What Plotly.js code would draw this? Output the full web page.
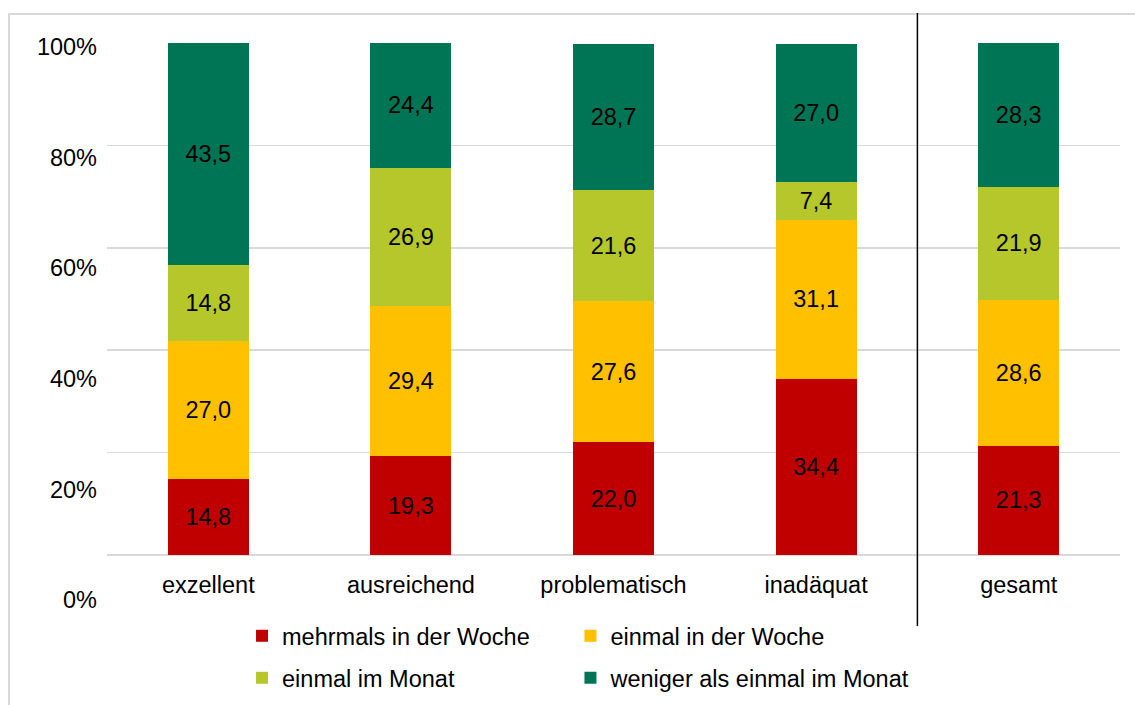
<!DOCTYPE html>
<html>
<head>
<meta charset="utf-8">
<script src="https://cdn.plot.ly/plotly-3.0.1.min.js"></script>
<style>
  html, body { margin: 0; padding: 0; background: #ffffff; overflow: hidden; }
  #wrap { position: relative; width: 1135px; height: 705px; overflow: hidden; background: #ffffff; }
  #frame { position: absolute; left: 8px; top: 13px; width: 1300px; height: 900px; border: 2px solid #d9d9d9; box-sizing: border-box; }
  #chart { position: absolute; left: 0; top: 0; width: 1135px; height: 705px; }
</style>
</head>
<body>
<div id="wrap">
  <div id="frame"></div>
  <div id="chart"></div>
</div>
<script>
// ---- data ----
const categories = ["exzellent", "ausreichend", "problematisch", "inadäquat", "gesamt"];
const seriesNames = ["mehrmals in der Woche", "einmal in der Woche", "einmal im Monat", "weniger als einmal im Monat"];
const mehrmalsWoche = [14.8, 19.3, 22.0, 34.4, 21.3];
const einmalWoche   = [27.0, 29.4, 27.6, 31.1, 28.6];
const einmalMonat   = [14.8, 26.9, 21.6, 7.4, 21.9];
const wenigerMonat  = [43.5, 24.4, 28.7, 27.0, 28.3];
const yTickValues = [0, 20, 40, 60, 80, 100];
const yTickLabels = ["0%", "20%", "40%", "60%", "80%", "100%"];

// ---- styles ----
const colors = ["#C00000", "#FFC000", "#B5C72B", "#007556"];
const FONT = "Liberation Sans, Arial, sans-serif";
const FS = 23.5;
const seriesValues = [mehrmalsWoche, einmalWoche, einmalMonat, wenigerMonat];
const legendIds = ["legend", "legend2", "legend3", "legend4"];

const traces = seriesValues.map((vals, i) => ({
  type: "bar",
  name: seriesNames[i],
  x: categories,
  y: vals,
  marker: { color: colors[i], line: { width: 0 } },
  texttemplate: "%{y:.1f}",
  textposition: "inside",
  insidetextanchor: "middle",
  textangle: 0,
  constraintext: "none",
  insidetextfont: { family: FONT, size: FS, color: "#000000" },
  hoverinfo: "skip",
  legend: legendIds[i]
}));

// carrier trace for the label axis
traces.push({
  type: "scatter", mode: "markers", x: [categories[0]], y: [null],
  yaxis: "y2", showlegend: false, hoverinfo: "skip"
});

const H = 705;
const px = v => 1 - v / H;

const legendBase = {
  orientation: "h",
  xanchor: "left",
  yanchor: "middle",
  font: { family: FONT, size: FS, color: "#000000" },
  bgcolor: "rgba(0,0,0,0)",
  borderwidth: 0,
  itemclick: false, itemdoubleclick: false
};
const col1 = 0.1333, col2 = 0.4575;
const row1 = px(636), row2 = px(678);

const layout = {
  width: 1135, height: 705,
  margin: { l: 107, r: 15, t: 0, b: 0, pad: 0 },
  paper_bgcolor: "rgba(0,0,0,0)",
  plot_bgcolor: "rgba(0,0,0,0)",
  font: { family: FONT, size: FS, color: "#000000" },
  separators: ",.",
  barmode: "stack",
  bargap: 0.6,
  showlegend: true,
  xaxis: {
    type: "category", range: [-0.5, 4.5],
    showgrid: false, zeroline: false, showline: false, ticks: "",
    tickfont: { family: FONT, size: FS, color: "#000000" },
    ticklabelstandoff: 13,
    fixedrange: true
  },
  yaxis: {
    domain: [px(555), px(43)],
    range: [0, 100], dtick: 20, tick0: 0,
    showgrid: true, gridcolor: "#d9d9d9", gridwidth: 1.5,
    zeroline: true, zerolinecolor: "#d9d9d9", zerolinewidth: 1.5,
    showline: false, showticklabels: false, ticks: "",
    fixedrange: true
  },
  yaxis2: {
    domain: [px(620), px(20)],
    range: [-3.617, 104.88],
    anchor: "free", position: 0,
    tickmode: "array", tickvals: yTickValues, ticktext: yTickLabels,
    showgrid: false, zeroline: false, showline: false, ticks: "",
    ticklabelstandoff: 10,
    tickfont: { family: FONT, size: FS, color: "#000000" },
    fixedrange: true
  },
  legend:  Object.assign({}, legendBase, { x: col1, y: row1 }),
  legend2: Object.assign({}, legendBase, { x: col2, y: row1 }),
  legend3: Object.assign({}, legendBase, { x: col1, y: row2 }),
  legend4: Object.assign({}, legendBase, { x: col2, y: row2 }),
  shapes: [{
    type: "line", xref: "x", yref: "paper",
    x0: 3.5, x1: 3.5, y0: px(626), y1: px(13),
    line: { color: "#000000", width: 1.5 }
  }]
};

Plotly.newPlot("chart", traces, layout, { displayModeBar: false, staticPlot: true });
</script>
</body>
</html>
